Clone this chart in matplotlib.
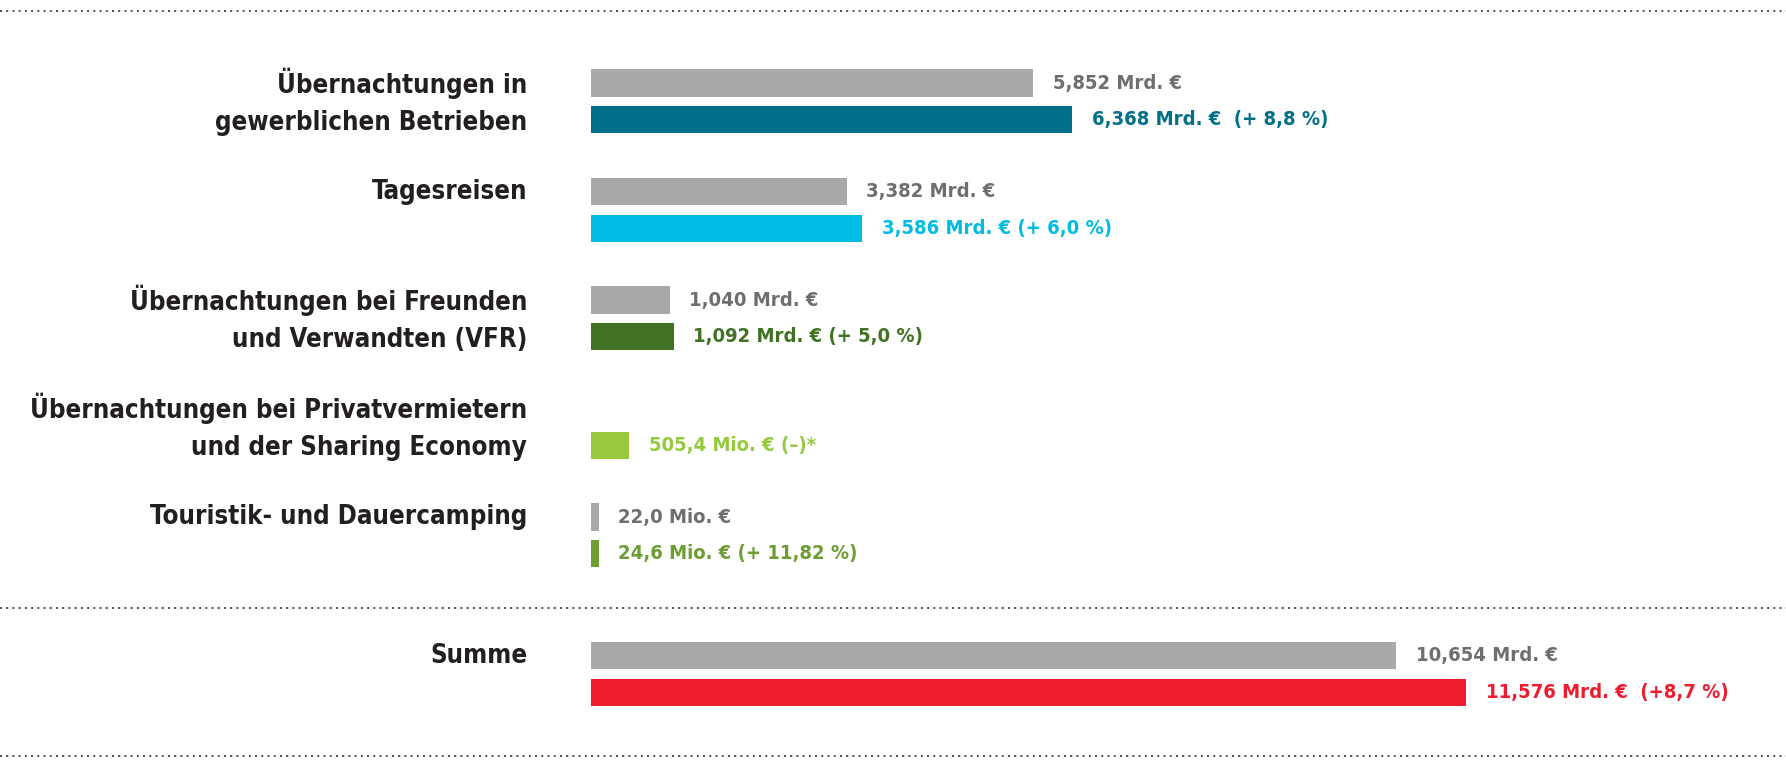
import numpy as np
import matplotlib.pyplot as plt
from matplotlib.lines import Line2D
from matplotlib import font_manager as fm

categories = [
    "Übernachtungen in\ngewerblichen Betrieben",
    "Tagesreisen",
    "Übernachtungen bei Freunden\nund Verwandten (VFR)",
    "Übernachtungen bei Privatvermietern\nund der Sharing Economy",
    "Touristik- und Dauercamping",
    "Summe",
]
# values in Mrd. EUR (previous year / current year)
prev_values = [5.852, 3.382, 1.040, np.nan, 0.0220, 10.654]
curr_values = [6.368, 3.586, 1.092, 0.5054, 0.0246, 11.576]
changes = ["(+ 8,8 %)", "(+ 6,0 %)", "(+ 5,0 %)", "(–)*", "(+ 11,82 %)", " (+8,7 %)"]

min_len = 0.105  # tiny values still get a visible sliver

curr_colors = ["#006F8A", "#00BCE4", "#3F7222", "#96C93D", "#6E9D34", "#ED1C2E"]
gray_bar = "#A7A9AA"
gray_text = "#6D6E70"
label_color = "#231F20"

# look for a bold condensed face, otherwise fall back
wanted = ["LiberationSansNarrow-Bold.", "DejaVuSansCondensed-Bold.",
          "RobotoCondensed-Bold.", "OpenSans_Condensed-Bold.", "OpenSansCondensed-Bold.",
          "NotoSans-CondensedBold.", "Roboto-Bold."]
paths = [f.fname for f in fm.fontManager.ttflist]
font_path = None
for w in wanted:
    hits = [p for p in paths if w.lower() in p.lower()]
    if hits:
        font_path = hits[0]
        break
if font_path:
    fp = fm.FontProperties(fname=font_path)
else:
    fp = fm.FontProperties(family="DejaVu Sans", weight="bold")


def fmt(v):
    if v < 1:
        return f"{v * 1000:.1f}".replace(".", ",") + " Mio. €"
    return f"{v:.3f}".replace(".", ",") + " Mrd. €"


fig = plt.figure(figsize=(17.86, 7.63), dpi=100)
ax = fig.add_axes([0, 0, 1, 1])
px = 75.6  # pixels per Mrd. EUR
ax.set_xlim(-591 / px, (1786 - 591) / px)
ax.set_ylim(6.097, -0.935)
ax.axis("off")

n = len(categories)
ypos = np.arange(n, dtype=float)
ypos[-1] = 4 + 138.5 / 108.5
off = 0.17
h = 0.25
gap = 14

for i in range(n):
    yc = ypos[i]
    if not np.isnan(prev_values[i]):
        L = max(prev_values[i], min_len)
        ax.barh(yc - off, L, height=h, left=0, color=gray_bar)
        ax.annotate(fmt(prev_values[i]), (L, yc - off), xytext=(gap, 0),
                    textcoords="offset points", va="center", ha="left",
                    fontproperties=fp, fontsize=14.5, color=gray_text)
    L = max(curr_values[i], min_len)
    ax.barh(yc + off, L, height=h, left=0, color=curr_colors[i])
    sep = "  " if i == 0 else " "
    ax.annotate(fmt(curr_values[i]) + sep + changes[i], (L, yc + off),
                xytext=(gap, 0), textcoords="offset points", va="center",
                ha="left", fontproperties=fp, fontsize=14.5, color=curr_colors[i])
    ly = yc if "\n" in categories[i] else yc - off
    ax.annotate(categories[i], (0, ly), xytext=(-46, 0), textcoords="offset points",
                va="center", ha="right", fontproperties=fp, fontsize=18.5,
                color=label_color, linespacing=1.55)

# dotted separators across the whole figure
for y in [-0.834, 4.668, 6.032]:
    yf = ax.transLimits.transform((0, y))[1]
    fig.add_artist(Line2D([0, 1], [yf, yf], transform=fig.transFigure,
                          color="#4D4D4F", lw=1.4, linestyle=(0, (1, 2.2)),
                          dash_capstyle="butt"))

fig.savefig("out.png", dpi=100, facecolor="white")
